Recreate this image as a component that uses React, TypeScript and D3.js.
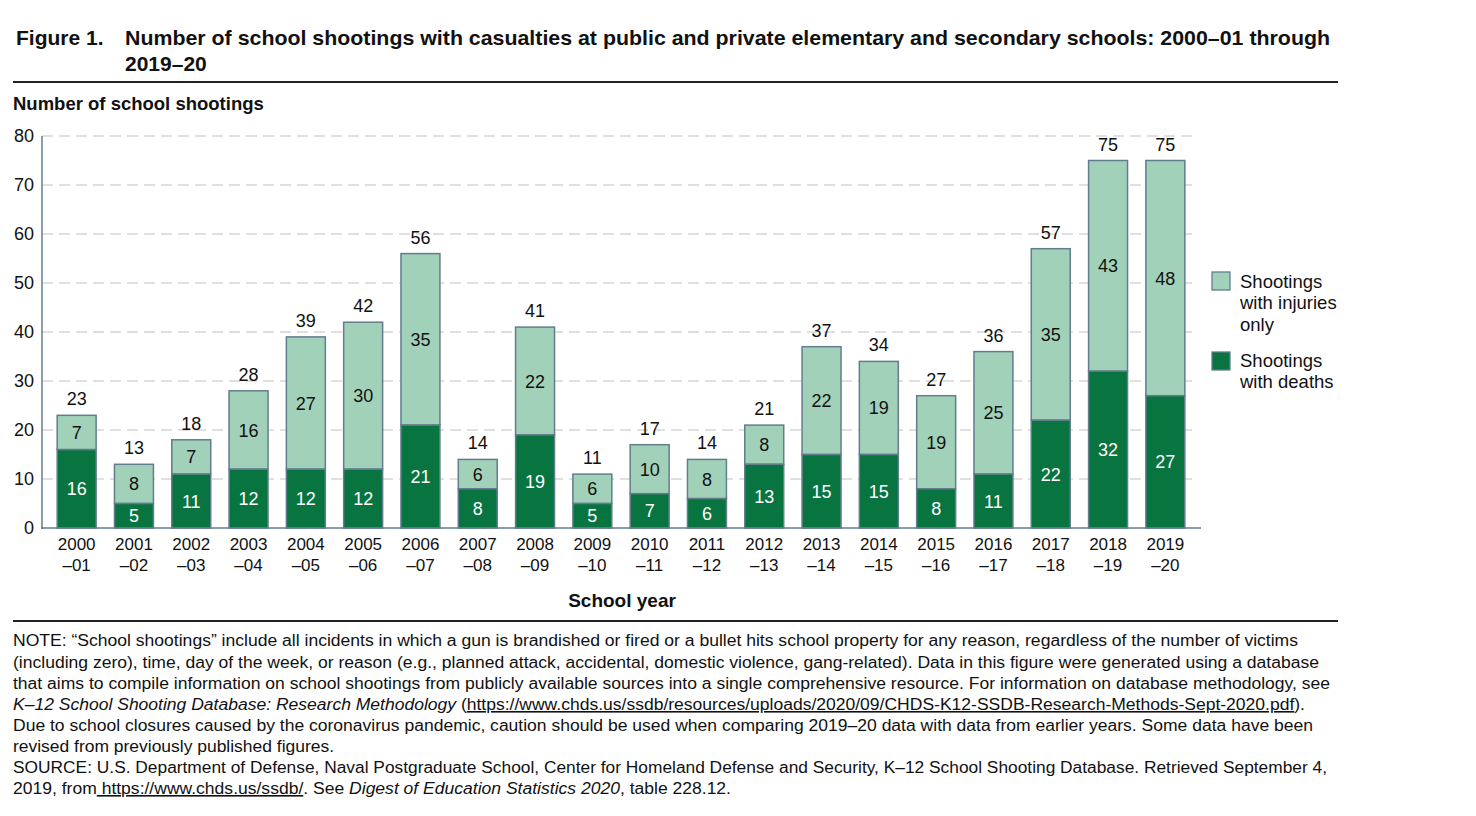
import * as d3 from 'd3';

const years = [
  ['2000', '–01'], ['2001', '–02'], ['2002', '–03'], ['2003', '–04'], ['2004', '–05'],
  ['2005', '–06'], ['2006', '–07'], ['2007', '–08'], ['2008', '–09'], ['2009', '–10'],
  ['2010', '–11'], ['2011', '–12'], ['2012', '–13'], ['2013', '–14'], ['2014', '–15'],
  ['2015', '–16'], ['2016', '–17'], ['2017', '–18'], ['2018', '–19'], ['2019', '–20'],
];
const deaths = [16, 5, 11, 12, 12, 12, 21, 8, 19, 5, 7, 6, 13, 15, 15, 8, 11, 22, 32, 27];
const injuries = [7, 8, 7, 16, 27, 30, 35, 6, 22, 6, 10, 8, 8, 22, 19, 19, 25, 35, 43, 48];
const yTicks = [0, 10, 20, 30, 40, 50, 60, 70, 80];

const DARK = '#08743f';
const LIGHT = '#a1d1b9';
const EDGE = '#627d8e';
const FONT = 'Liberation Sans, Arial, sans-serif';

export default function App() {
  const width = 1476;
  const height = 816;
  const keys = years.map((y) => y.join(''));
  const x = d3.scaleBand().domain(keys).range([48, 1194]).paddingInner(0.32).paddingOuter(0.16);
  const y = d3.scaleLinear().domain([0, 80]).range([528, 136]);
  const bw = x.bandwidth();

  const note: { parts: [string, string?][]; y: number; len: number }[] = [
    { y: 646, len: 1285, parts: [['NOTE: “School shootings” include all incidents in which a gun is brandished or fired or a bullet hits school property for any reason, regardless of the number of victims']] },
    { y: 668, len: 1306, parts: [['(including zero), time, day of the week, or reason (e.g., planned attack, accidental, domestic violence, gang-related). Data in this figure were generated using a database']] },
    { y: 689, len: 1317, parts: [['that aims to compile information on school shootings from publicly available sources into a single comprehensive resource. For information on database methodology, see']] },
    { y: 710, len: 1292, parts: [['K–12 School Shooting Database: Research Methodology', 'i'], [' ('], ['https://www.chds.us/ssdb/resources/uploads/2020/09/CHDS-K12-SSDB-Research-Methods-Sept-2020.pdf', 'u'], [').']] },
    { y: 731, len: 1300, parts: [['Due to school closures caused by the coronavirus pandemic, caution should be used when comparing 2019–20 data with data from earlier years. Some data have been']] },
    { y: 752, len: 321, parts: [['revised from previously published figures.']] },
    { y: 773, len: 1314, parts: [['SOURCE: U.S. Department of Defense, Naval Postgraduate School, Center for Homeland Defense and Security, K–12 School Shooting Database. Retrieved September 4,']] },
    { y: 794, len: 718, parts: [['2019, from'], [' https://www.chds.us/ssdb/', 'u'], ['. See '], ['Digest of Education Statistics 2020', 'i'], [', table 228.12.']] },
  ];

  return (
    <svg width={width} height={height} style={{ display: 'block', margin: '-8px', fontFamily: FONT }}>
      <rect width={width} height={height} fill="#fff" />
      {/* title */}
      <text x={16} y={45} fontSize={21} fontWeight="bold" fill="#111">Figure 1.</text>
      <text x={125} y={45} fontSize={21} fontWeight="bold" fill="#111" textLength={1205} lengthAdjust="spacingAndGlyphs">
        Number of school shootings with casualties at public and private elementary and secondary schools: 2000–01 through
      </text>
      <text x={125} y={71} fontSize={21} fontWeight="bold" fill="#111">2019–20</text>
      <line x1={13} x2={1338} y1={82} y2={82} stroke="#222" strokeWidth={2} />

      <text x={13} y={110} fontSize={18.5} fontWeight="bold" fill="#111">Number of school shootings</text>

      {/* grid + y axis */}
      {yTicks.map((t) => (
        <g key={t}>
          {t > 0 && (
            <line x1={42} x2={1197} y1={y(t)} y2={y(t)} stroke="#d6d6d6" strokeWidth={1.3} strokeDasharray="11 6" />
          )}
          <text x={34} y={y(t) + 6} fontSize={18} textAnchor="end" fill="#111">{t}</text>
        </g>
      ))}

      {/* bars */}
      {keys.map((k, i) => {
        const x0 = x(k) ?? 0;
        const cx = x0 + bw / 2;
        const total = deaths[i] + injuries[i];
        return (
          <g key={k}>
            <rect x={x0} y={y(total)} width={bw} height={y(deaths[i]) - y(total)} fill={LIGHT} stroke={EDGE} strokeWidth={1.5} />
            <rect x={x0} y={y(deaths[i])} width={bw} height={y(0) - y(deaths[i])} fill={DARK} stroke={EDGE} strokeWidth={1.5} />
            <text x={cx} y={(y(deaths[i]) + y(0)) / 2 + 6.5} fontSize={18} textAnchor="middle" fill="#fff">{deaths[i]}</text>
            <text x={cx} y={(y(total) + y(deaths[i])) / 2 + 6.5} fontSize={18} textAnchor="middle" fill="#111">{injuries[i]}</text>
            <text x={cx} y={y(total) - 10} fontSize={18} textAnchor="middle" fill="#111">{total}</text>
            <text x={cx} y={550} fontSize={17} textAnchor="middle" fill="#111">{years[i][0]}</text>
            <text x={cx} y={571} fontSize={17} textAnchor="middle" fill="#111">{years[i][1]}</text>
          </g>
        );
      })}
      <line x1={42} x2={42} y1={136} y2={529} stroke={EDGE} strokeWidth={1.5} />
      <line x1={41} x2={1201} y1={y(0)} y2={y(0)} stroke={EDGE} strokeWidth={1.5} />

      <text x={622} y={607} fontSize={19} fontWeight="bold" textAnchor="middle" fill="#111">School year</text>

      {/* legend */}
      <rect x={1212} y={272} width={18} height={18} fill={LIGHT} stroke={EDGE} strokeWidth={1.3} />
      <text fontSize={18.5} fill="#111">
        <tspan x={1240} y={288}>Shootings</tspan>
        <tspan x={1240} y={309}>with injuries</tspan>
        <tspan x={1240} y={331}>only</tspan>
      </text>
      <rect x={1212} y={352} width={18} height={18} fill={DARK} stroke={EDGE} strokeWidth={1.3} />
      <text fontSize={18.5} fill="#111">
        <tspan x={1240} y={367}>Shootings</tspan>
        <tspan x={1240} y={388}>with deaths</tspan>
      </text>

      <line x1={13} x2={1338} y1={621} y2={621} stroke="#222" strokeWidth={2} />

      {/* note and source */}
      {note.map((line) => (
        <text key={line.y} x={13} y={line.y} fontSize={16} fill="#111" textLength={line.len} lengthAdjust="spacingAndGlyphs">
          {line.parts.map(([s, st], j) => (
            <tspan key={j} fontStyle={st === 'i' ? 'italic' : undefined} textDecoration={st === 'u' ? 'underline' : undefined}>
              {s}
            </tspan>
          ))}
        </text>
      ))}
    </svg>
  );
}
